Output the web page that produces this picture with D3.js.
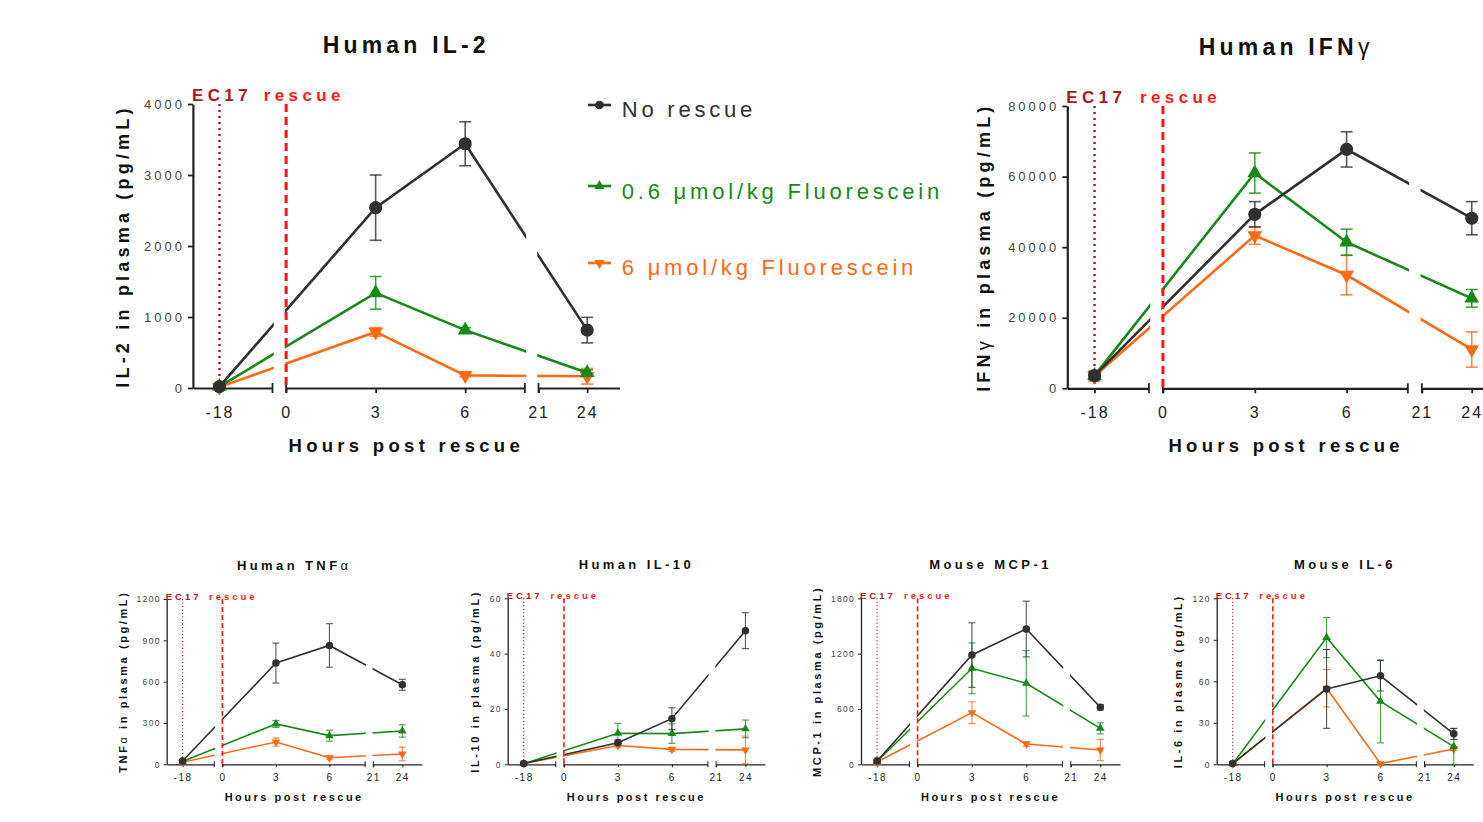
<!DOCTYPE html>
<html>
<head>
<meta charset="utf-8">
<script src="https://cdn.jsdelivr.net/npm/d3@7/dist/d3.min.js"></script>
<style>
  html, body { margin: 0; padding: 0; background: #fff; overflow: hidden; }
  svg { display: block; font-family: "Liberation Sans", Arial, sans-serif; }
</style>
</head>
<body>
<svg id="chart" width="1483" height="822"></svg>
<script>
// ---- data ----
const hours = [-18, 3, 6, 24]
const xTickGroups = [[-18], [0, 3, 6], [21, 24]]
const xSegDomains = [[-19, -16], [0, 8], [21, 26]]
const seriesNames = ["No rescue", "0.6 μmol/kg Fluorescein", "6 μmol/kg Fluorescein"]

const il2Mean = [[20, 2540, 3440, 815], [20, 1340, 815, 215], [12, 790, 178, 165]]
const il2Err = [[10, 460, 310, 180], [10, 230, 35, 40], [30, 60, 20, 110]]
const il2Ticks = [0, 1000, 2000, 3000, 4000]

const ifnMean = [[3600, 49300, 67700, 48200], [3600, 61000, 41400, 25500], [3500, 43300, 32100, 11000]]
const ifnErr = [[1000, 3600, 5000, 4700], [1200, 5700, 3700, 2500], [1500, 2500, 5600, 5000]]
const ifnTicks = [0, 20000, 40000, 60000, 80000]

const tnfMean = [[24, 735, 863, 577], [20, 293, 208, 242], [15, 162, 48, 75]]
const tnfErr = [[8, 145, 158, 40], [5, 25, 40, 45], [5, 30, 12, 50]]
const tnfTicks = [0, 300, 600, 900, 1200]

const il10Mean = [[0.3, 7.8, 16.5, 48.3], [0.2, 11.2, 11.1, 12.8], [0.3, 6.8, 5.4, 5.2]]
const il10Err = [[0.2, 1, 3.9, 6.5], [0.2, 3.6, 3.5, 3.2], [0.8, 0.8, 0.8, 5]]
const il10Ticks = [0, 20, 40, 60]

const mcpMean = [[36, 1185, 1467, 618], [30, 1041, 878, 390], [25, 560, 220, 155]]
const mcpErr = [[10, 350, 302, 30], [10, 275, 355, 60], [45, 118, 25, 115]]
const mcpTicks = [0, 600, 1200, 1800]

const il6Mean = [[0.5, 54.5, 64, 22], [0.3, 91.6, 45.5, 12.8], [0.3, 55, 0.5, 11]]
const il6Err = [[0.3, 28.5, 11, 4], [0.3, 14.5, 30, 13], [0.3, 13.5, 0.5, 1]]
const il6Ticks = [0, 30, 60, 90, 120]

// ---- styling ----
const colors = ["#303030", "#168a16", "#ff6a13"]
const segFrac = [[0, 0.1866], [0.2185, 0.778], [0.81, 1]]

const big = {
    title: 23, titleLs: 4.2, titleDy: -51,
    ylab: 18, ylabLs: 4.2,
    xlab: 18.5, xlabLs: 4.3, xlabDy: 64,
    ytick: 13, ytickLs: 3, xtick: 16, xtickLs: 2, xtickDy: 30,
    ec: 17, ecLs: 4.4, ecDy: -3,
    line: 2.6, err: 1.6, cap: 6, circle: 135, tri: 95,
    axis: 2.2, tick: 5, refW: 3, dash: "8,5", dot: "2,4"
}
const small = {
    title: 13, titleLs: 3.4, titleDy: -29,
    ylab: 11, ylabLs: 2.6,
    xlab: 11, xlabLs: 2.5, xlabDy: 37,
    ytick: 8.5, ytickLs: 1.3, xtick: 10, xtickLs: 1.5, xtickDy: 17,
    ec: 9.5, ecLs: 3, ecDy: 1,
    line: 1.6, err: 1.1, cap: 3.5, circle: 44, tri: 32,
    axis: 1.3, tick: 3, refW: 1.6, dash: "5,3", dot: "1,2.5"
}

const panels = [
    { title: "Human IL-2", ylab: ["IL-2", " in plasma (pg/mL)"], mean: il2Mean, err: il2Err, ticks: il2Ticks,
      x0: 192.9, w: 426.7, top: 104, bottom: 388, ylabDx: -70, st: big },
    { title: ["Human IFN", "γ"], ylab: ["IFN", "γ", " in plasma (pg/mL)"], mean: ifnMean, err: ifnErr, ticks: ifnTicks,
      x0: 1067.3, w: 437.7, top: 106, bottom: 388.3, ylabDx: -84, st: big },
    { title: ["Human TNF", "α"], ylab: ["TNF", "α", " in plasma (pg/mL)"], mean: tnfMean, err: tnfErr, ticks: tnfTicks,
      x0: 166.7, w: 255, top: 599, bottom: 764.3, ylabDx: -44, st: small },
    { title: "Human IL-10", ylab: ["IL-10", " in plasma (pg/mL)"], mean: il10Mean, err: il10Err, ticks: il10Ticks,
      x0: 507.7, w: 257.3, top: 598.3, bottom: 764.3, ylabDx: -33, st: small },
    { title: "Mouse MCP-1", ylab: ["MCP-1", " in plasma (pg/mL)"], mean: mcpMean, err: mcpErr, ticks: mcpTicks,
      x0: 861, w: 259, top: 598.3, bottom: 764.3, ylabDx: -44, st: small },
    { title: "Mouse IL-6", ylab: ["IL-6", " in plasma (pg/mL)"], mean: il6Mean, err: il6Err, ticks: il6Ticks,
      x0: 1216.7, w: 256.6, top: 598.3, bottom: 764.3, ylabDx: -39, st: small }
]

const svg = d3.select("#chart")

function symbolPath(i, size) {
    if (i === 0) return d3.symbol(d3.symbolCircle, size)()
    return d3.symbol(d3.symbolTriangle, size)()
}

function drawPanel(p) {
    const st = p.st
    const g = svg.append("g")
    const y = d3.scaleLinear().domain([0, d3.max(p.ticks)]).range([p.bottom, p.top])
    const segs = xSegDomains.map((dom, i) => d3.scaleLinear()
        .domain(dom)
        .range([p.x0 + segFrac[i][0] * p.w, p.x0 + segFrac[i][1] * p.w]))
    const x = v => {
        const s = segs.find(s => v >= s.domain()[0] && v <= s.domain()[1])
        return s(v)
    }

    // y axis
    const yAxis = g.append("g")
        .attr("transform", `translate(${p.x0},0)`)
        .call(d3.axisLeft(y).tickValues(p.ticks).tickSize(st.tick).tickSizeOuter(0).tickPadding(3)
            .tickFormat(d => String(d)))
    yAxis.select(".domain").attr("stroke", "#222").attr("stroke-width", st.axis)
    yAxis.selectAll(".tick line").attr("stroke", "#222").attr("stroke-width", st.axis * 0.8)
    yAxis.selectAll(".tick text")
        .attr("fill", "#444")
        .style("font-size", st.ytick + "px")
        .style("letter-spacing", st.ytickLs + "px")
        .style("font-family", "'Liberation Sans', Arial, sans-serif")

    // x axis, broken into segments
    segs.forEach((s, i) => {
        const ax = g.append("g")
            .attr("transform", `translate(0,${p.bottom})`)
            .call(d3.axisBottom(s).tickValues(xTickGroups[i]).tickSize(st.tick).tickSizeOuter(0)
                .tickFormat(d => String(d)))
        ax.select(".domain").attr("stroke", "#222").attr("stroke-width", st.axis)
        ax.selectAll(".tick line").attr("stroke", "#222").attr("stroke-width", st.axis * 0.8)
        ax.selectAll(".tick text")
            .attr("y", st.xtickDy).attr("dy", null)
            .attr("fill", "#222")
            .style("font-size", st.xtick + "px")
            .style("letter-spacing", st.xtickLs + "px")
            .style("font-family", "'Liberation Sans', Arial, sans-serif")
    })

    // dotted EC17 line
    g.append("line")
        .attr("x1", x(-18)).attr("x2", x(-18))
        .attr("y1", y(d3.max(p.ticks))).attr("y2", y(0))
        .attr("stroke", "#a8141c").attr("stroke-width", st.refW * 0.8)
        .attr("stroke-dasharray", st.dot)

    // series: orange, green, black
    const line = d3.line().x((d, j) => x(hours[j])).y(d => y(d))
    ;[2, 1, 0].forEach(i => {
        const c = colors[i]
        const sg = g.append("g")
        p.mean[i].forEach((m, j) => {
            const e = p.err[i][j]
            const xx = x(hours[j])
            const lo = y(Math.max(0, m - e)), hi = y(m + e)
            sg.append("line").attr("x1", xx).attr("x2", xx).attr("y1", lo).attr("y2", hi)
                .attr("stroke", c).attr("stroke-width", st.err).attr("opacity", 0.8)
            ;[lo, hi].forEach(yy => sg.append("line")
                .attr("x1", xx - st.cap).attr("x2", xx + st.cap).attr("y1", yy).attr("y2", yy)
                .attr("stroke", c).attr("stroke-width", st.err).attr("opacity", 0.8))
        })
        sg.append("path").datum(p.mean[i])
            .attr("d", line)
            .attr("fill", "none").attr("stroke", c).attr("stroke-width", st.line)
        sg.selectAll("path.mk").data(p.mean[i]).enter().append("path")
            .attr("class", "mk")
            .attr("d", symbolPath(i, i === 0 ? st.circle : st.tri))
            .attr("transform", (d, j) => `translate(${x(hours[j])},${y(d)})${i === 2 ? " rotate(180)" : ""}`)
            .attr("fill", c)
    })

    // white gaps at the axis breaks
    const gaps = [[segs[0].range()[1], segs[1].range()[0]], [segs[1].range()[1], segs[2].range()[0]]]
    gaps.forEach(([a, b]) => {
        g.append("rect")
            .attr("x", a + st.axis * 0.6).attr("width", b - a - st.axis * 1.2)
            .attr("y", p.top - 12).attr("height", p.bottom - p.top + 12 + st.tick + 2)
            .attr("fill", "#fff")
        ;[a, b].forEach(xx => g.append("line")
            .attr("x1", xx).attr("x2", xx)
            .attr("y1", p.bottom - st.tick).attr("y2", p.bottom + st.tick)
            .attr("stroke", "#222").attr("stroke-width", st.axis * 0.8))
    })

    // dashed rescue line
    g.append("line")
        .attr("x1", x(0)).attr("x2", x(0))
        .attr("y1", y(d3.max(p.ticks))).attr("y2", y(0))
        .attr("stroke", "#ff1414").attr("stroke-width", st.refW)
        .attr("stroke-dasharray", st.dash)

    // EC17 / rescue labels
    g.append("text")
        .attr("x", p.x0 - 1).attr("y", p.top + st.ecDy)
        .attr("fill", "#b0151c").attr("font-weight", "bold")
        .style("font-size", st.ec + "px").style("letter-spacing", st.ecLs + "px")
        .text("EC17")
    g.append("text")
        .attr("x", p.x0 + 0.166 * p.w).attr("y", p.top + st.ecDy)
        .attr("fill", "#ff1a1a").attr("font-weight", "bold")
        .style("font-size", st.ec + "px").style("letter-spacing", st.ecLs + "px")
        .text("rescue")

    // title
    const cx = p.x0 + p.w / 2
    const t = g.append("text")
        .attr("x", cx).attr("y", p.top + st.titleDy)
        .attr("text-anchor", "middle").attr("font-weight", "bold").attr("fill", "#111")
        .style("font-size", st.title + "px").style("letter-spacing", st.titleLs + "px")
    const titleParts = Array.isArray(p.title) ? p.title : [p.title]
    titleParts.forEach((s, k) => t.append("tspan").attr("font-weight", k === 1 ? "normal" : "bold").text(s))

    // x label
    g.append("text")
        .attr("x", cx).attr("y", p.bottom + st.xlabDy)
        .attr("text-anchor", "middle").attr("font-weight", "bold").attr("fill", "#111")
        .style("font-size", st.xlab + "px").style("letter-spacing", st.xlabLs + "px")
        .text("Hours post rescue")

    // y label
    const yl = g.append("text")
        .attr("transform", `translate(${p.x0 + p.ylabDx},${(p.top + p.bottom) / 2}) rotate(-90)`)
        .attr("text-anchor", "middle").attr("dy", "0.36em").attr("fill", "#111")
        .style("font-size", st.ylab + "px").style("letter-spacing", st.ylabLs + "px")
    p.ylab.forEach(s => yl.append("tspan")
        .attr("font-weight", (s === "γ" || s === "α") ? "normal" : "bold")
        .text(s))
}

panels.forEach(drawPanel)

// legend
const legendY = [105, 186, 263]
const legendTextY = [117.3, 199, 275]
const legend = svg.append("g")
seriesNames.forEach((name, i) => {
    legend.append("line")
        .attr("x1", 588).attr("x2", 611)
        .attr("y1", legendY[i]).attr("y2", legendY[i])
        .attr("stroke", colors[i]).attr("stroke-width", 2.6)
    legend.append("path")
        .attr("d", symbolPath(i, i === 0 ? 60 : 45))
        .attr("transform", `translate(599.5,${legendY[i]})${i === 2 ? " rotate(180)" : ""}`)
        .attr("fill", colors[i])
    legend.append("text")
        .attr("x", 621.7).attr("y", legendTextY[i])
        .attr("fill", colors[i])
        .style("font-size", "22px").style("letter-spacing", "3.8px")
        .text(name)
})
</script>
</body>
</html>
